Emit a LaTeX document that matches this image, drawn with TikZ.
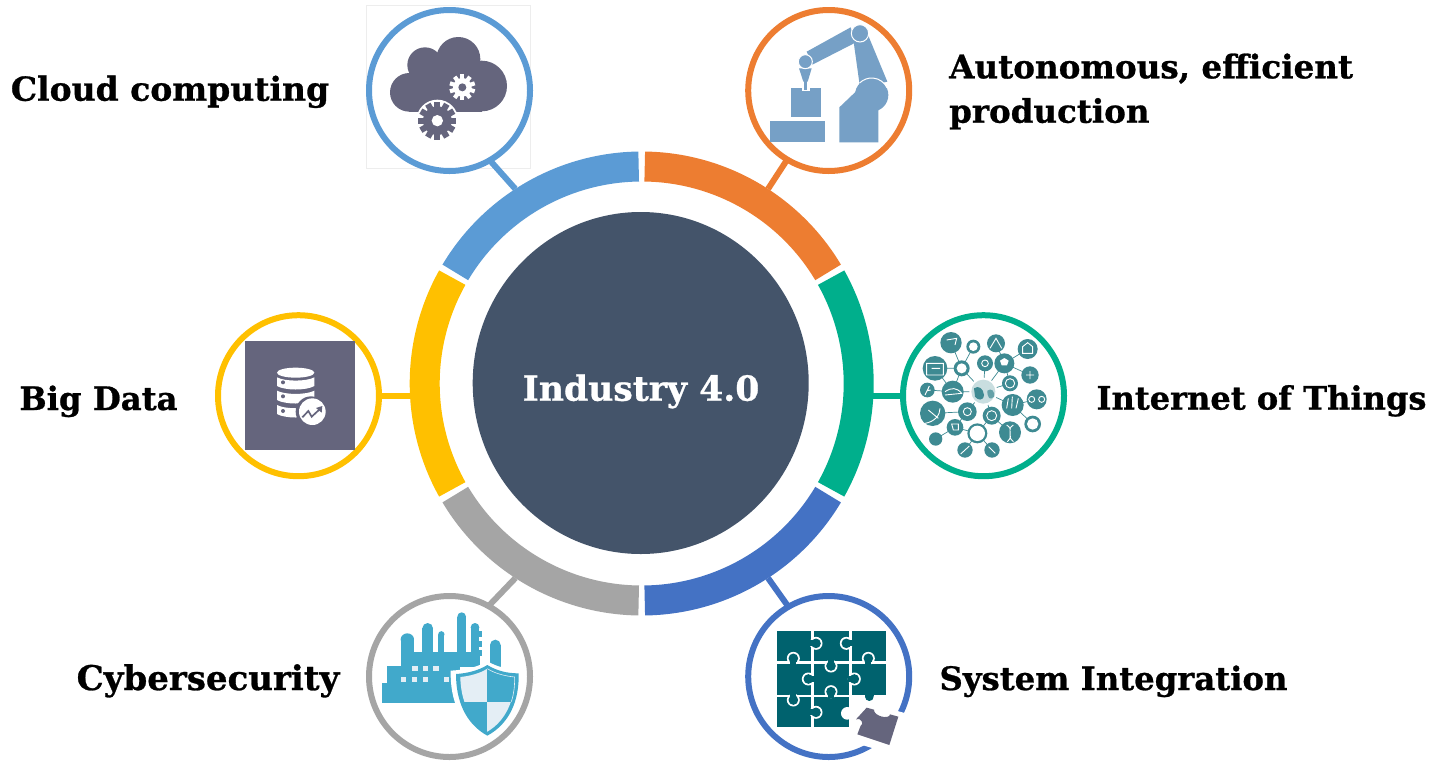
\documentclass[tikz,border=0pt]{standalone}
\usepackage{fontspec}
\setmainfont{DejaVu Serif}[BoldFeatures={FakeBold=0.8}]
\usetikzlibrary{calc,shapes.geometric}
\definecolor{cblue}{HTML}{5B9BD5}
\definecolor{corange}{HTML}{ED7D31}
\definecolor{cteal}{HTML}{00AF8C}
\definecolor{cdblue}{HTML}{4472C4}
\definecolor{cgray}{HTML}{A5A5A5}
\definecolor{cyellow}{HTML}{FFC000}
\definecolor{ccenter}{HTML}{44546A}
\definecolor{slate}{HTML}{65657D}
\definecolor{robotc}{HTML}{76A0C6}
\definecolor{iotc}{HTML}{3E8A92}
\definecolor{puzz}{HTML}{00626E}
\definecolor{cyb}{HTML}{41A9CB}
\definecolor{cybl}{HTML}{E4EEF5}
\tikzset{
  bubble/.style={circle,draw=#1,line width=6pt,minimum size=161pt,inner sep=0pt,outer sep=0pt},
  link/.style={draw=#1,line width=6pt},
  seg/.style={draw=#1,line width=30pt},
  lbl/.style={font=\fontsize{#1}{38}\selectfont\bfseries,text=black,inner sep=0pt,anchor=base},
}
\newcommand{\puzztab}[3]{\begin{scope}[shift={(#1,#2)},rotate=#3]
  \fill[white] (18,0) circle[radius=19.5pt];
  \fill[puzz] (-2,-9) rectangle (12,9);
  \fill[puzz] (18,0) circle[radius=14.5pt];
\end{scope}}
\newcommand{\geartool}[8]{\begin{scope}[shift={(#1,#2)}]
  \foreach \a in {1,...,#8}{\fill[#6,rotate=\a*360/#8] (-0.16*#3,0) rectangle (0.16*#3,#3);}
  \fill[#6] (0,0) circle[radius=#4 pt];
  \fill[#7] (0,0) circle[radius=#5 pt];
\end{scope}}
\begin{document}
\begin{tikzpicture}[x=1pt,y=-1pt]
\useasboundingbox (0,0) rectangle (1439,761);
\fill[white] (0,0) rectangle (1439,761);
\coordinate (c) at (641.7,383.5);
\draw[black!7,line width=0.6pt] (366,5) rectangle (530,168);
\node[circle,minimum size=464pt,inner sep=0pt,outer sep=0pt] (ring) at (c) {};
\foreach \s/\e/\k in {30.8/89.2/corange,-29.2/29.2/cteal,-89.2/-30.8/cdblue,-149.2/-90.8/cgray,150.8/209.2/cyellow,90.8/149.2/cblue}{
  \draw[seg=\k] ($(c)+(\s:217pt)$) arc[start angle=\s,end angle=\e,radius=217pt];
}
\node[ellipse,fill=ccenter,minimum width=336pt,minimum height=342pt,inner sep=0pt] (hub) at (640.7,383) {};
\node[lbl=34.6,text=white] (title) at (641,400.7) {Industry 4.0};
% bubbles
\node[bubble=cblue] (cloud) at (449.5,90.5) {};
\node[bubble=corange] (robot) at (828.7,90.5) {};
\node[bubble=cteal] (iot) at (983.5,395.7) {};
\node[bubble=cdblue] (puzzle) at (828.7,676.5) {};
\node[bubble=cgray] (cyber) at (449.5,676.5) {};
\node[bubble=cyellow] (bigdata) at (298.5,395.7) {};
% connectors
\draw[link=cblue] (ring.123.4) -- (cloud.-60);
\draw[link=corange] (ring.57.5) -- (robot.-121);
\draw[link=cteal] (ring.-3 |- iot.west) -- (iot.west);
\draw[link=cdblue] (ring.-57.3) -- (puzzle.120.7);
\draw[link=cgray] (ring.-123.8) -- (cyber.61);
\draw[link=cyellow] (ring.183 |- bigdata.east) -- (bigdata.east);
% labels
\node[lbl=33] (t1) at (170,100.7) {Cloud computing};
\node[lbl=32.6,anchor=base west] (t2) at (949,78.3) {Autonomous, efficient};
\node[lbl=32.5,anchor=base west] (t3) at (949,122.7) {production};
\node[lbl=32.1] (t4) at (1261.5,409.5) {Internet of Things};
\node[lbl=32.3] (t5) at (1113.5,690) {System Integration};
\node[lbl=34] (t6) at (208,690) {Cybersecurity};
\node[lbl=32.3] (t7) at (98.5,410) {Big Data};
% ---- cloud icon
\begin{scope}[shift={(350,0)},scale=1/3]
  \fill[slate] (178,277) circle[radius=58pt] (225,195) circle[radius=53pt] (325,177) circle[radius=66pt] (395,258) circle[radius=76pt];
  \fill[slate] (178,210) rectangle (395,335);
  \fill[white] (262,362) circle[radius=63pt];
  \geartool{262}{362}{57}{43}{17}{slate}{white}{12}
  \geartool{337}{262}{39}{28}{12}{white}{slate}{10}
\end{scope}
% ---- robot icon
\begin{scope}[shift={(730,0)},scale=1/3]
  \fill[robotc] (120,362) rectangle (285,427);
  \fill[robotc] (182,265) rectangle (272,352);
  \fill[white] (215,262) rectangle (240,272);
  \fill[robotc] (222,240) rectangle (232,270);
  \fill[robotc] (207,205) -- (245,205) -- (233,245) -- (220,245) -- cycle;
  \fill[robotc] (230,155) -- (362,82) -- (376,128) -- (247,194) -- cycle;
  \fill[robotc] (368,105) -- (414,105) -- (472,245) -- (390,262) -- cycle;
  \fill[robotc] (425,285) circle[radius=50pt];
  \fill[robotc] (328,427) -- (328,322) -- (395,258) -- (425,285) -- (445,310) -- (445,427) -- cycle;
  \draw[white,line width=1pt] (425,285) ++(25:51pt) arc[start angle=25,end angle=135,radius=51pt];
  \filldraw[fill=robotc,draw=white,line width=1pt] (390,100) circle[radius=26pt];
  \filldraw[fill=robotc,draw=white,line width=1pt] (226,185) circle[radius=21pt];
\end{scope}
% ---- IoT icon
\begin{scope}[shift={(890,300)},scale=1/3]
  \draw[iotc,line width=0.7pt]
    (183,128)--(215,205) (250,140)--(215,205) (135,205)--(215,205) (215,205)--(188,275)
    (215,205)--(280,275) (285,190)--(280,275) (318,130)--(343,190) (343,190)--(280,275)
    (343,190)--(413,147) (343,190)--(420,225) (360,250)--(280,275) (280,275)--(368,315)
    (368,315)--(440,298) (368,315)--(428,372) (112,270)--(188,275) (188,275)--(280,275)
    (128,340)--(232,335) (232,335)--(280,275) (305,347)--(280,275) (305,347)--(360,397)
    (232,335)--(195,382) (195,382)--(137,417) (195,382)--(262,400) (262,400)--(305,347)
    (262,400)--(225,450) (262,400)--(306,450) (360,250)--(343,190) (135,205)--(188,275);
  \foreach \x/\y/\r in {183/128/32,250/140/21,318/130/27,413/147/30,135/205/37,215/205/24,285/190/24,343/190/30,420/225/26,360/250/24,112/270/22,188/275/33,368/315/33,440/298/30,128/340/38,232/335/28,305/347/27,428/372/25,195/382/25,262/400/30,360/397/33,137/417/20,225/450/23,306/450/23}{
    \fill[iotc] (\x,\y) circle[radius=\r pt];
  }
  \foreach \x/\y/\r in {250/140/13,215/205/15,428/372/17,262/400/23}{
    \fill[white] (\x,\y) circle[radius=\r pt];
  }
  \draw[white,line width=0.9pt]
    (232,335) circle[radius=12pt]
    (360,250) circle[radius=14pt]
    (305,347) circle[radius=15pt]
    (285,190) circle[radius=10pt]
    (110,190)--(160,190)--(160,225)--(110,225)--cycle
    (125,205)--(150,205)
    (165,275)..controls (185,262) and (200,262)..(215,280)--(165,285)
    (105,285)--(118,258)--(112,272)--(122,270)
    (105,370)..controls (135,365) and (150,345)..(150,325)
    (115,330)--(145,355)
    (170,120)--(200,115)--(195,135)
    (300,145)--(318,115)--(335,145)
    (398,160)--(398,140)--(413,128)--(428,140)--(428,160)--cycle
    (408,225)--(432,225) (420,213)--(420,237)
    (425,298) circle[radius=9pt] (455,298) circle[radius=9pt]
    (350,325)--(355,295) (365,325)--(367,290) (378,325)--(385,295)
    (350,375)..controls (375,390) and (345,405)..(370,425)
    (370,375)..controls (345,390) and (375,405)..(352,425)
    (212,462)--(238,438)
    (296,440)--(316,460)
    (185,372)--(205,372)--(205,390)--(190,390)--cycle;
  \fill[white] (343,190) ++(-13,-8) -- ++(13,-8) -- ++(13,8) -- ++(-5,14) -- ++(-16,0) -- cycle;
  \fill[white] (280,275) circle[radius=42pt];
  \fill[iotc!28!white] (280,275) circle[radius=36pt];
  \fill[iotc] (252,265) .. controls (265,255) and (280,265) .. (282,285) .. controls (280,305) and (262,300) .. (255,290) -- cycle;
  \fill[iotc!80!white] (292,272) .. controls (305,262) and (315,275) .. (312,290) .. controls (300,302) and (292,295) .. cycle;
\end{scope}
% ---- big data icon
\begin{scope}[shift={(205,300)},scale=1/3]
  \fill[slate] (120,123) rectangle (450,450);
  \fill[white] (272,218) ellipse[x radius=56pt,y radius=15pt];
  \fill[white] (216,232) .. controls (240,245) and (304,245) .. (328,232) -- (328,258) .. controls (304,272) and (240,272) .. (216,258) -- cycle;
  \fill[white] (216,272) .. controls (240,285) and (304,285) .. (328,272) -- (328,300) .. controls (304,314) and (240,314) .. (216,300) -- cycle;
  \fill[white] (216,315) .. controls (240,328) and (304,328) .. (328,315) -- (328,342) .. controls (304,356) and (240,356) .. (216,342) -- cycle;
  \foreach \y in {247,289,333}{\fill[slate] (234,\y) circle[radius=6pt];}
  \fill[slate] (318,335) circle[radius=46pt];
  \fill[white] (322,335) circle[radius=40pt];
  \draw[slate,line width=1.7pt] (292,352) -- (310,333) -- (320,350) -- (346,326);
  \fill[slate] (333,324) -- (352,318) -- (350,338) -- cycle;
\end{scope}
% ---- cyber icon
\begin{scope}[shift={(350,580)},scale=1/3]
  \fill[cyb] (95,308) rectangle (330,370);
  \fill[cyb] (112,258) rectangle (330,310);
  \fill[cyb] (153,215) rectangle (390,260);
  \fill[cyb] (153,178) rectangle (192,220);
  \fill[cyb] (172,178) ellipse[x radius=20pt,y radius=18pt];
  \fill[cyb] (217,145) rectangle (248,220);
  \fill[cyb] (233,145) circle[radius=16pt];
  \fill[cyb] (265,165) rectangle (283,220);
  \fill[cyb] (274,163) circle[radius=9.5pt];
  \fill[cyb] (322,110) rectangle (348,220);
  \fill[cyb] (335,110) circle[radius=13pt];
  \fill[cyb] (363,142) rectangle (388,260);
  \fill[cyb] (375,142) circle[radius=13pt];
  \fill[cyb] (388,153) rectangle (396,172);
  \fill[cyb] (388,182) rectangle (396,200);
  \fill[cyb] (388,210) rectangle (396,228);
  \fill[cyb] (420,195) rectangle (452,275);
  \fill[cyb] (436,195) circle[radius=16pt];
  \foreach \x/\y in {195/265,226/265,258/265,160/298,194/298,226/298,290/298}{
    \fill[cybl] (\x-8,\y-8) rectangle (\x+8,\y+8);
  }
  \fill[white] (412,243) .. controls (385,262) and (340,270) .. (302,272) .. controls (300,360) and (330,440) .. (412,482) .. controls (495,440) and (525,360) .. (520,265) .. controls (480,270) and (440,262) .. (412,243) -- cycle;
  \fill[cyb] (412,255) .. controls (385,272) and (350,280) .. (318,282) .. controls (318,360) and (345,430) .. (412,467) .. controls (480,430) and (508,360) .. (506,280) .. controls (470,280) and (440,272) .. (412,255) -- cycle;
  \begin{scope}
    \clip (412,266) .. controls (390,280) and (360,288) .. (331,291) .. controls (332,360) and (358,422) .. (412,455) .. controls (468,422) and (494,360) .. (494,291) .. controls (464,288) and (434,280) .. (412,266) -- cycle;
    \fill[cybl] (320,250) rectangle (412,365);
    \fill[cybl] (412,365) rectangle (510,470);
  \end{scope}
  \draw[cybl,line width=0.6pt] (412,266) .. controls (434,280) and (464,288) .. (494,291) .. controls (494,320) and (492,340) .. (484,365);
\end{scope}
% ---- puzzle icon
\begin{scope}[shift={(730,580)},scale=1/3]
  \fill[white] (400,365) -- (535,402) -- (498,525) -- (362,485) -- cycle;
  \foreach \x/\X in {140/242,251/357,365/467}{
    \foreach \y/\Y in {153/242,251/344}{\fill[puzz] (\x,\y) rectangle (\X,\Y);}
  }
  \fill[puzz] (140,351) rectangle (242,442);
  \fill[puzz] (251,351) rectangle (357,442);
  \fill[white] (352,400) circle[radius=19pt];
  \puzztab{240}{190}{0}
  \puzztab{367}{190}{180}
  \puzztab{190}{253}{90}
  \puzztab{303}{240}{270}
  \puzztab{415}{253}{90}
  \puzztab{253}{297}{180}
  \puzztab{355}{297}{0}
  \puzztab{190}{342}{270}
  \puzztab{303}{353}{90}
  \puzztab{240}{397}{0}
  \fill[puzz] (405,340) rectangle (432,348);
  \fill[puzz] (418,350) circle[radius=13pt];
  \fill[slate] (410,383) -- (432,389) .. controls (430,408) and (478,420) .. (480,403) -- (505,410) -- (478,495) -- (382,463) -- (392,437) .. controls (404,434) and (392,410) .. (378,418) -- cycle;
\end{scope}
\end{tikzpicture}
\end{document}
